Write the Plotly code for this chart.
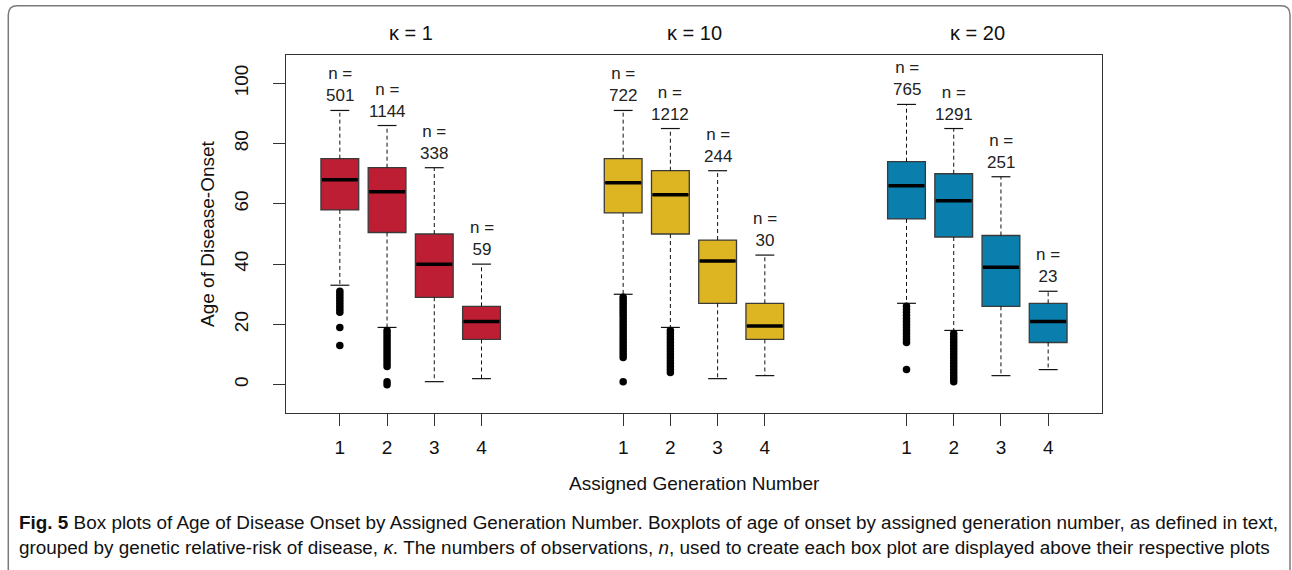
import plotly.graph_objects as go

# ---------------- data ----------------
kappa_titles = ["κ = 1", "κ = 10", "κ = 20"]
generation_labels = ["1", "2", "3", "4"]

n_k1 = [501, 1144, 338, 59]
q1_k1 = [58, 50.5, 29, 15]
median_k1 = [68, 64, 40, 21]
q3_k1 = [75, 72, 50, 26]
lower_k1 = [33, 19, 1, 2]
upper_k1 = [91, 86, 72, 40]
outliers_k1 = [
    [31, 30, 29, 28, 27, 26, 25, 24, 19, 13],
    [18, 17, 16, 15, 14, 13, 12, 11, 10, 9, 8, 7, 6, 1, 0],
    [],
    [],
]

n_k10 = [722, 1212, 244, 30]
q1_k10 = [57, 50, 27, 15]
median_k10 = [67, 63, 41, 19.5]
q3_k10 = [75, 71, 48, 27]
lower_k10 = [30, 19, 2, 3]
upper_k10 = [91, 85, 71, 43]
outliers_k10 = [
    [29, 28, 27, 26, 25, 24, 23, 22, 21, 20, 19, 18, 17, 16, 15, 14, 13, 12, 11, 10, 9, 1],
    [18, 17, 16, 15, 14, 13, 12, 11, 10, 9, 8, 7, 6, 5, 4],
    [],
    [],
]

n_k20 = [765, 1291, 251, 23]
q1_k20 = [55, 49, 26, 14]
median_k20 = [66, 61, 39, 21]
q3_k20 = [74, 70, 49.5, 27]
lower_k20 = [27, 18, 3, 5]
upper_k20 = [93, 85, 69, 31]
outliers_k20 = [
    [26, 25, 24, 23, 22, 21, 20, 19, 18, 17, 16, 15, 14, 5],
    [17, 16, 15, 14, 13, 12, 11, 10, 9, 8, 7, 6, 5, 4, 3, 2, 1],
    [],
    [],
]

colors = ["#BE1E33", "#DDB422", "#0A7FAE"]

caption_line1 = ("<b>Fig. 5</b> Box plots of Age of Disease Onset by Assigned Generation Number. "
                 "Boxplots of age of onset by assigned generation number, as defined in text,")
caption_line2 = ("grouped by genetic relative-risk of disease, <i>κ</i>. The numbers of observations, "
                 "<i>n</i>, used to create each box plot are displayed above their respective plots")

groups = [
    (n_k1, q1_k1, median_k1, q3_k1, lower_k1, upper_k1, outliers_k1),
    (n_k10, q1_k10, median_k10, q3_k10, lower_k10, upper_k10, outliers_k10),
    (n_k20, q1_k20, median_k20, q3_k20, lower_k20, upper_k20, outliers_k20),
]

# ---------------- layout geometry ----------------
W, H = 1292, 570
L, R, T, B = 286, 190, 55, 157
PW, PH = W - L - R, H - T - B
BOXW = 0.8
STAPLE = 0.4
FONT = "Liberation Sans, Arial, sans-serif"


def px_x(px):
    return (px - L) / PW


def px_y(py):
    return (H - B - py) / PH


fig = go.Figure()

tickvals, ticktext = [], []
annotations = []
for g, (n, q1, med, q3, lo, up, outl) in enumerate(groups):
    pos = [i + 1 + 6 * g for i in range(len(q1))]
    tickvals += pos
    ticktext += generation_labels
    fig.add_trace(go.Box(
        x=pos, q1=q1, median=med, q3=q3, lowerfence=q1, upperfence=q3,
        width=BOXW, fillcolor=colors[g], line=dict(color="#3a3a3a", width=1.3),
        boxpoints=False, whiskerwidth=0, showlegend=False, hoverinfo="skip"))

for g, (n, q1, med, q3, lo, up, outl) in enumerate(groups):
    pos = [i + 1 + 6 * g for i in range(len(q1))]
    wx, wy, sx, sy, mx, my, ox, oy = [], [], [], [], [], [], [], []
    for i, p in enumerate(pos):
        wx += [p, p, None, p, p, None]
        wy += [q3[i], up[i], None, q1[i], lo[i], None]
        sx += [p - STAPLE / 2, p + STAPLE / 2, None, p - STAPLE / 2, p + STAPLE / 2, None]
        sy += [up[i], up[i], None, lo[i], lo[i], None]
        mx += [p - BOXW / 2 + 0.02, p + BOXW / 2 - 0.02, None]
        my += [med[i], med[i], None]
        ox += [p] * len(outl[i])
        oy += outl[i]
        annotations.append(dict(
            x=p, y=up[i], xref="x", yref="y", text=f"n =<br>{n[i]}",
            showarrow=False, yanchor="bottom", xanchor="center", yshift=3,
            font=dict(family=FONT, size=17, color="#222")))
    fig.add_trace(go.Scatter(x=wx, y=wy, mode="lines", line=dict(color="#111", width=1, dash="4px,3px"),
                             showlegend=False, hoverinfo="skip"))
    fig.add_trace(go.Scatter(x=sx, y=sy, mode="lines", line=dict(color="#111", width=1.2),
                             showlegend=False, hoverinfo="skip"))
    fig.add_trace(go.Scatter(x=mx, y=my, mode="lines", line=dict(color="#000", width=3.5),
                             showlegend=False, hoverinfo="skip"))
    fig.add_trace(go.Scatter(x=ox, y=oy, mode="markers", marker=dict(color="#000", size=7.5),
                             showlegend=False, hoverinfo="skip"))
    annotations.append(dict(
        x=2.5 + 6 * g, y=px_y(33), xref="x", yref="paper", text=kappa_titles[g],
        showarrow=False, yanchor="middle", xanchor="center",
        font=dict(family=FONT, size=20, color="#111")))

annotations.append(dict(x=px_x(207), y=0.5, xref="paper", yref="paper", text="Age of Disease-Onset",
                        textangle=-90, showarrow=False, xanchor="center", yanchor="middle",
                        font=dict(family=FONT, size=19, color="#111")))
annotations.append(dict(x=8.5, y=px_y(483), xref="x", yref="paper", text="Assigned Generation Number",
                        showarrow=False, xanchor="center", yanchor="middle",
                        font=dict(family=FONT, size=19, color="#111")))
annotations.append(dict(x=px_x(17), y=px_y(522), xref="paper", yref="paper", text=caption_line1,
                        showarrow=False, xanchor="left", yanchor="middle",
                        font=dict(family=FONT, size=18.9, color="#111")))
annotations.append(dict(x=px_x(17), y=px_y(547), xref="paper", yref="paper", text=caption_line2,
                        showarrow=False, xanchor="left", yanchor="middle",
                        font=dict(family=FONT, size=18.9, color="#111")))

# outer figure frame with rounded top corners
r = 9
lx, tx, rx, by = 8.3, 5.7, 1290, 580
path = (f"M {px_x(lx)},{px_y(by)} L {px_x(lx)},{px_y(tx + r)} "
        f"Q {px_x(lx)},{px_y(tx)} {px_x(lx + r)},{px_y(tx)} "
        f"L {px_x(rx - r)},{px_y(tx)} Q {px_x(rx)},{px_y(tx)} {px_x(rx)},{px_y(tx + r)} "
        f"L {px_x(rx)},{px_y(by)}")

fig.update_layout(
    width=W, height=H,
    margin=dict(l=L, r=R, t=T, b=B, autoexpand=False),
    paper_bgcolor="white", plot_bgcolor="white",
    boxmode="overlay", showlegend=False,
    annotations=annotations,
    shapes=[dict(type="path", path=path, xref="paper", yref="paper",
                 line=dict(color="#7a7a7a", width=1.5), layer="above")],
    font=dict(family=FONT, size=19, color="#111"),
)
fig.update_xaxes(range=[-0.14, 17.14], tickvals=tickvals, ticktext=ticktext,
                 showgrid=False, zeroline=False, showline=True, mirror=True,
                 linecolor="#333", linewidth=1.2, ticks="outside", ticklen=12,
                 tickcolor="#333", tickwidth=1, ticklabelstandoff=5,
                 tickfont=dict(family=FONT, size=19, color="#111"))
fig.update_yaxes(range=[-9.4, 109.4], tickvals=[0, 20, 40, 60, 80, 100],
                 showgrid=False, zeroline=False, showline=True, mirror=True,
                 linecolor="#333", linewidth=1.2, ticks="outside", ticklen=12,
                 tickcolor="#333", tickwidth=1, tickangle=-90, ticklabelstandoff=17,
                 tickfont=dict(family=FONT, size=19, color="#111"))

fig.write_html("out.html", config={"displayModeBar": False, "staticPlot": True},
               post_script="document.body.style.margin='0px';document.body.style.overflow='hidden';")
